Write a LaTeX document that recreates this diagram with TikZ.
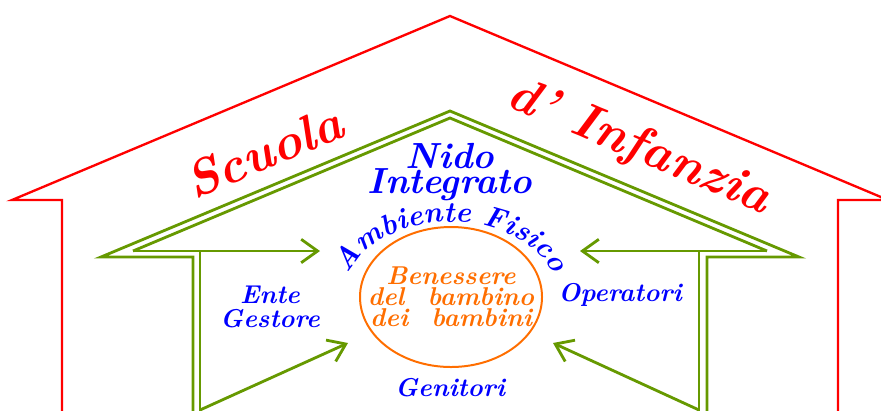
\documentclass[tikz,border=0pt]{standalone}
\usetikzlibrary{arrows.meta,shapes.geometric,decorations.text}
\definecolor{rosso}{RGB}{255,0,0}
\definecolor{verde}{RGB}{102,153,0}
\definecolor{blu}{RGB}{0,0,255}
\definecolor{arancio}{RGB}{255,110,0}
\newcommand{\corsivo}{\bfseries\itshape}

\begin{document}
\begin{tikzpicture}[x=0.03cm, y=-0.03cm, >={Straight Barb[length=14pt,width=20pt]}]
        % Stili
        \tikzstyle{tetto} = [draw=rosso, line width=2pt]
        \tikzstyle{muro} = [draw=verde, line width=2.4pt]
        \tikzstyle{freccia} = [->, draw=verde, line width=2.4pt]
        \tikzstyle{voce} = [text=blu, font=\corsivo\fontsize{22}{20}\selectfont, align=center, inner sep=0pt]
        \tikzstyle{titolo} = [text=rosso, font=\corsivo\fontsize{43}{45}\selectfont, inner sep=0pt]

        \useasboundingbox (0,0) rectangle (881,410);

        % Casa esterna
        \draw[tetto] (62,414) -- (62,200) -- (12,200) -- (450,16) -- (888,200) -- (838,200) -- (838,414);
        \node[titolo, rotate=22.8] (scuola) at (264,152) {Scuola};
        \node[titolo, rotate=-22.8] (infanzia) at (639,148) {d' Infanzia};

        % Casa interna (doppia linea)
        \draw[muro] (193,414) -- (193,257) -- (101,257) -- (450,111) -- (799,257) -- (707,257) -- (707,414);
        \draw[muro] (133,251) -- (450,118) -- (767,251);
        \draw[muro] (200,251) -- (200,414);
        \draw[muro] (699,251) -- (699,414);

        % Centro
        \node[ellipse, draw=arancio, line width=1.7pt, minimum width=5.46cm, minimum height=4.2cm] (ellisse) at (451,297) {};
        \node[text=arancio, font=\corsivo\fontsize{22}{18}\selectfont, align=center, inner sep=0pt] (benessere) at (ellisse.center)
              {Benessere\\del\hspace{0.9em}bambino\\dei\hspace{0.9em}bambini};
        \path[decorate, decoration={text along path, text align=center,
              text={|\corsivo\fontsize{25}{27}\selectfont\color{blu}|Ambiente Fisico}}]
              (343,297) arc[start angle=180, end angle=0, x radius=3.24cm, y radius=2.25cm];

        % Soggetti
        \node[voce, font=\corsivo\fontsize{31}{22}\selectfont] (nido) at (450,172) {Nido\\Integrato};
        \node[voce] (ente) at (270,307) {Ente\\Gestore};
        \node[voce] (operatori) at (620,295) {Operatori};
        \node[voce] (genitori) at (450,388) {Genitori};

        % Frecce
        \coordinate (sx) at (133,251);
        \coordinate (dx) at (767,251);
        \coordinate (sxbasso) at (200,410);
        \coordinate (dxbasso) at (699,410);
        \coordinate (puntasx) at (320,251);
        \coordinate (puntadx) at (580,251);
        \coordinate (puntasxbasso) at (348,343);
        \coordinate (puntadxbasso) at (553,343);
        \draw[freccia] (sx) -- (puntasx);
        \draw[freccia] (dx) -- (puntadx);
        \draw[freccia] (sxbasso) -- (puntasxbasso);
        \draw[freccia] (dxbasso) -- (puntadxbasso);
\end{tikzpicture}
\end{document}
